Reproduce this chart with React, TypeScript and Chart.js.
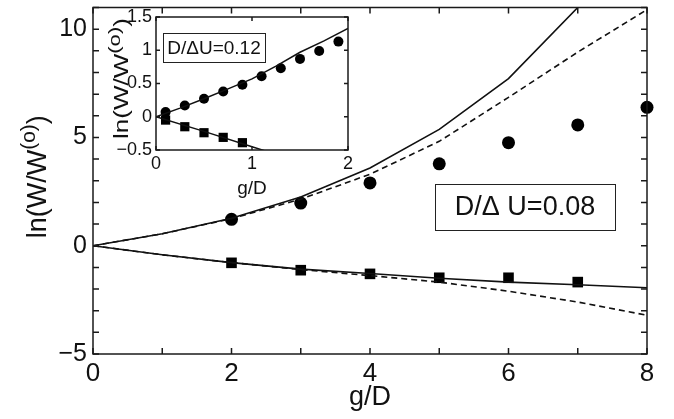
import React, { useEffect, useRef } from "react";
import { Chart, registerables } from "chart.js";

Chart.register(...registerables);

// ---------- main panel data ----------
const mainLineX = [0, 1, 2, 3, 4, 5, 6, 7, 8];
const upperSolidY = [0, 0.55, 1.27, 2.25, 3.59, 5.37, 7.72, 11.0, 15.0];
const upperDashedY = [0, 0.55, 1.25, 2.15, 3.3, 4.82, 6.85, 8.94, 10.9];
const lowerSolidY = [0, -0.42, -0.78, -1.08, -1.28, -1.5, -1.68, -1.8, -1.94];
const lowerDashedY = [0, -0.42, -0.78, -1.1, -1.38, -1.68, -2.1, -2.6, -3.21];
const circleX = [2, 3, 4, 5, 6, 7, 8];
const circleY = [1.22, 1.97, 2.9, 3.78, 4.76, 5.58, 6.39];
const squareX = [2, 3, 4, 5, 6, 7];
const squareY = [-0.79, -1.13, -1.3, -1.48, -1.48, -1.68];
const mainXTicks = [0, 2, 4, 6, 8];
const mainYTicks = [-5, 0, 5, 10];
const mainLabel = "D/\u0394 U=0.08";

// ---------- inset data ----------
const insetUpperX = [0, 0.25, 0.5, 0.75, 1, 1.25, 1.5, 1.75, 2];
const insetUpperY = [0, 0.13, 0.27, 0.42, 0.57, 0.76, 0.97, 1.14, 1.33];
const insetLowerX = [0, 0.5, 1, 1.3];
const insetLowerY = [0, -0.22, -0.45, -0.59];
const insetCircleX = [0.1, 0.3, 0.5, 0.7, 0.9, 1.1, 1.3, 1.5, 1.7, 1.9];
const insetCircleY = [0.07, 0.17, 0.27, 0.38, 0.48, 0.61, 0.73, 0.87, 0.99, 1.13];
const insetSquareX = [0.1, 0.3, 0.5, 0.7, 0.9];
const insetSquareY = [-0.05, -0.15, -0.24, -0.31, -0.39];
const insetXTicks = [0, 1, 2];
const insetYTicks = [-0.5, 0, 0.5, 1, 1.5];
const insetLabel = "D/\u0394U=0.12";

const FONT = "'Liberation Sans', Arial, Helvetica, sans-serif";
const INK = "#111";

const pts = (xs: number[], ys: number[]) => xs.map((x, i) => ({ x, y: ys[i] }));
const fmt = (v: number) => (v < 0 ? "\u2212" + String(Math.abs(v)) : String(v));

function lineDs(xs: number[], ys: number[], dashed: boolean, lw: number) {
  return {
    data: pts(xs, ys),
    borderColor: INK,
    borderWidth: lw,
    borderDash: dashed ? [6, 4] : [],
    pointRadius: 0,
    showLine: true,
    fill: false,
    tension: 0,
    clip: 0,
  };
}

function markerDs(xs: number[], ys: number[], style: string, r: number) {
  return {
    data: pts(xs, ys),
    showLine: false,
    pointStyle: style,
    pointRadius: r,
    pointBackgroundColor: "#000",
    pointBorderColor: "#000",
    pointBorderWidth: 0,
    clip: false,
  };
}

function framePlugin(xMinor: number, yMinor: number, tickLen: number, lw: number) {
  return {
    id: "frame",
    afterDatasetsDraw(chart: any) {
      const { ctx, chartArea: a, scales } = chart;
      const xs = scales.x;
      const ys = scales.y;
      ctx.save();
      ctx.strokeStyle = "#1a1a1a";
      ctx.lineWidth = lw;
      ctx.strokeRect(a.left, a.top, a.right - a.left, a.bottom - a.top);
      ctx.beginPath();
      for (let v = xs.min; v <= xs.max + 1e-9; v += xMinor) {
        const p = xs.getPixelForValue(v);
        ctx.moveTo(p, a.bottom);
        ctx.lineTo(p, a.bottom - tickLen);
        ctx.moveTo(p, a.top);
        ctx.lineTo(p, a.top + tickLen);
      }
      for (let v = ys.min; v <= ys.max + 1e-9; v += yMinor) {
        const p = ys.getPixelForValue(v);
        ctx.moveTo(a.left, p);
        ctx.lineTo(a.left + tickLen, p);
        ctx.moveTo(a.right, p);
        ctx.lineTo(a.right - tickLen, p);
      }
      ctx.stroke();
      ctx.restore();
    },
  };
}

function drawSupText(
  ctx: CanvasRenderingContext2D,
  x: number,
  y: number,
  size: number,
  supSize: number,
  raise: number,
  stretch: number
) {
  const base = "ln(W/W";
  const sup = "(o)";
  const tail = ")";
  ctx.save();
  ctx.translate(x, y);
  ctx.rotate(-Math.PI / 2);
  ctx.scale(stretch, 1);
  ctx.fillStyle = INK;
  ctx.textBaseline = "alphabetic";
  ctx.textAlign = "left";
  const f1 = `${size}px ${FONT}`;
  const f2 = `${supSize}px ${FONT}`;
  ctx.font = f1;
  const w1 = ctx.measureText(base).width;
  const w3 = ctx.measureText(tail).width;
  ctx.font = f2;
  const w2 = ctx.measureText(sup).width;
  const start = -(w1 + w2 + w3) / 2;
  ctx.font = f1;
  ctx.fillText(base, start, 0);
  ctx.font = f2;
  ctx.fillText(sup, start + w1, -raise);
  ctx.font = f1;
  ctx.fillText(tail, start + w1 + w2, 0);
  ctx.restore();
}

function titlesPlugin(cfg: {
  xTitleSize: number;
  xTitleY: number;
  yTitleX: number;
  yTitleDy: number;
  ySize: number;
  ySupSize: number;
  yRaise: number;
  yStretch: number;
  box: { fx: number; fy: number; w: number; h: number; text: string; size: number };
  bg: boolean;
}) {
  return {
    id: "titles",
    beforeDraw(chart: any) {
      if (!cfg.bg) return;
      const { ctx, chartArea: a } = chart;
      ctx.save();
      ctx.fillStyle = "#fff";
      ctx.fillRect(a.left, a.top, a.right - a.left, a.bottom - a.top);
      ctx.restore();
    },
    afterDraw(chart: any) {
      const { ctx, chartArea: a } = chart;
      ctx.save();
      ctx.fillStyle = INK;
      ctx.font = `${cfg.xTitleSize}px ${FONT}`;
      ctx.textAlign = "center";
      ctx.textBaseline = "alphabetic";
      ctx.fillText("g/D", (a.left + a.right) / 2, cfg.xTitleY);
      drawSupText(
        ctx,
        cfg.yTitleX,
        (a.top + a.bottom) / 2 + cfg.yTitleDy,
        cfg.ySize,
        cfg.ySupSize,
        cfg.yRaise,
        cfg.yStretch
      );
      const b = cfg.box;
      const bx = Math.round(a.left + (a.right - a.left) * b.fx);
      const by = Math.round(a.top + (a.bottom - a.top) * b.fy);
      ctx.fillStyle = "#fff";
      ctx.fillRect(bx, by, b.w, b.h);
      ctx.strokeStyle = "#222";
      ctx.lineWidth = 1;
      ctx.strokeRect(bx + 0.5, by + 0.5, b.w, b.h);
      ctx.fillStyle = INK;
      ctx.font = `${b.size}px ${FONT}`;
      ctx.textAlign = "center";
      ctx.textBaseline = "middle";
      ctx.fillText(b.text, bx + b.w / 2, by + b.h / 2 + 1);
      ctx.restore();
    },
  };
}

const zeroPadX = (s: any, h: number) => {
  s.height = h;
  s.paddingLeft = 0;
  s.paddingRight = 0;
};
const zeroPadY = (s: any, w: number) => {
  s.width = w;
  s.paddingTop = 0;
  s.paddingBottom = 0;
};

export default function App() {
  const mainRef = useRef<HTMLCanvasElement>(null);
  const insetRef = useRef<HTMLCanvasElement>(null);

  useEffect(() => {
    const mainChart = new Chart(mainRef.current as HTMLCanvasElement, {
      type: "scatter",
      data: {
        datasets: [
          lineDs(mainLineX, upperSolidY, false, 1.6),
          lineDs(mainLineX, upperDashedY, true, 1.6),
          lineDs(mainLineX, lowerSolidY, false, 1.6),
          lineDs(mainLineX, lowerDashedY, true, 1.6),
          markerDs(circleX, circleY, "circle", 6.5),
          markerDs(squareX, squareY, "rect", 7.5),
        ] as any,
      },
      options: {
        animation: false,
        responsive: false,
        events: [],
        layout: { padding: { left: 0, right: 27, top: 5, bottom: 0 } },
        plugins: { legend: { display: false }, tooltip: { enabled: false } },
        scales: {
          x: {
            type: "linear",
            min: 0,
            max: 8,
            grid: { display: false, drawTicks: false },
            border: { display: false },
            afterBuildTicks: (s: any) => {
              s.ticks = mainXTicks.map((v) => ({ value: v }));
            },
            afterFit: (s: any) => zeroPadX(s, 65),
            ticks: {
              autoSkip: false,
              maxRotation: 0,
              padding: 4,
              color: INK,
              font: { family: FONT, size: 26 },
              callback: (v: any) => fmt(Number(v)),
            },
          },
          y: {
            type: "linear",
            min: -5,
            max: 11,
            grid: { display: false, drawTicks: false },
            border: { display: false },
            afterBuildTicks: (s: any) => {
              s.ticks = mainYTicks.map((v) => ({ value: v }));
            },
            afterFit: (s: any) => zeroPadY(s, 93),
            ticks: {
              autoSkip: false,
              padding: 6,
              color: INK,
              font: { family: FONT, size: 25 },
              callback: (v: any) => fmt(Number(v)),
            },
          },
        },
      } as any,
      plugins: [
        framePlugin(1, 1, 6, 1.5),
        titlesPlugin({
          xTitleSize: 27,
          xTitleY: 405,
          yTitleX: 46,
          yTitleDy: -4,
          ySize: 27,
          ySupSize: 21,
          yRaise: 11,
          yStretch: 1,
          box: { fx: 0.617, fy: 0.51, w: 180, h: 46, text: mainLabel, size: 27 },
          bg: false,
        }),
      ],
    });

    const insetChart = new Chart(insetRef.current as HTMLCanvasElement, {
      type: "scatter",
      data: {
        datasets: [
          lineDs(insetUpperX, insetUpperY, false, 1.5),
          lineDs(insetLowerX, insetLowerY, false, 1.5),
          markerDs(insetCircleX, insetCircleY, "circle", 5),
          markerDs(insetSquareX, insetSquareY, "rect", 6.5),
        ] as any,
      },
      options: {
        animation: false,
        responsive: false,
        events: [],
        layout: { padding: { left: 0, right: 12, top: 17, bottom: 0 } },
        plugins: { legend: { display: false }, tooltip: { enabled: false } },
        scales: {
          x: {
            type: "linear",
            min: 0,
            max: 2,
            grid: { display: false, drawTicks: false },
            border: { display: false },
            afterBuildTicks: (s: any) => {
              s.ticks = insetXTicks.map((v) => ({ value: v }));
            },
            afterFit: (s: any) => zeroPadX(s, 55),
            ticks: {
              autoSkip: false,
              maxRotation: 0,
              padding: 3,
              color: INK,
              font: { family: FONT, size: 18 },
              callback: (v: any) => fmt(Number(v)),
            },
          },
          y: {
            type: "linear",
            min: -0.5,
            max: 1.5,
            grid: { display: false, drawTicks: false },
            border: { display: false },
            afterBuildTicks: (s: any) => {
              s.ticks = insetYTicks.map((v) => ({ value: v }));
            },
            afterFit: (s: any) => zeroPadY(s, 56),
            ticks: {
              autoSkip: false,
              padding: 4,
              color: INK,
              font: { family: FONT, size: 18 },
              callback: (v: any) => fmt(Number(v)),
            },
          },
        },
      } as any,
      plugins: [
        framePlugin(1, 0.5, 4, 1.5),
        titlesPlugin({
          xTitleSize: 19,
          xTitleY: 194,
          yTitleX: 28,
          yTitleDy: -5,
          ySize: 20,
          ySupSize: 17,
          yRaise: 8,
          yStretch: 1.3,
          box: { fx: 0.036, fy: 0.12, w: 102, h: 29, text: insetLabel, size: 19 },
          bg: true,
        }),
      ],
    });

    return () => {
      mainChart.destroy();
      insetChart.destroy();
    };
  }, []);

  return (
    <div
      style={{
        position: "absolute",
        left: 0,
        top: 0,
        width: 674,
        height: 419,
        background: "#fff",
        overflow: "hidden",
      }}
    >
      <canvas
        ref={mainRef}
        width={674}
        height={419}
        style={{ position: "absolute", left: 0, top: 0, width: 674, height: 419 }}
      />
      <canvas
        ref={insetRef}
        width={260}
        height={205}
        style={{ position: "absolute", left: 100, top: 0, width: 260, height: 205 }}
      />
    </div>
  );
}
